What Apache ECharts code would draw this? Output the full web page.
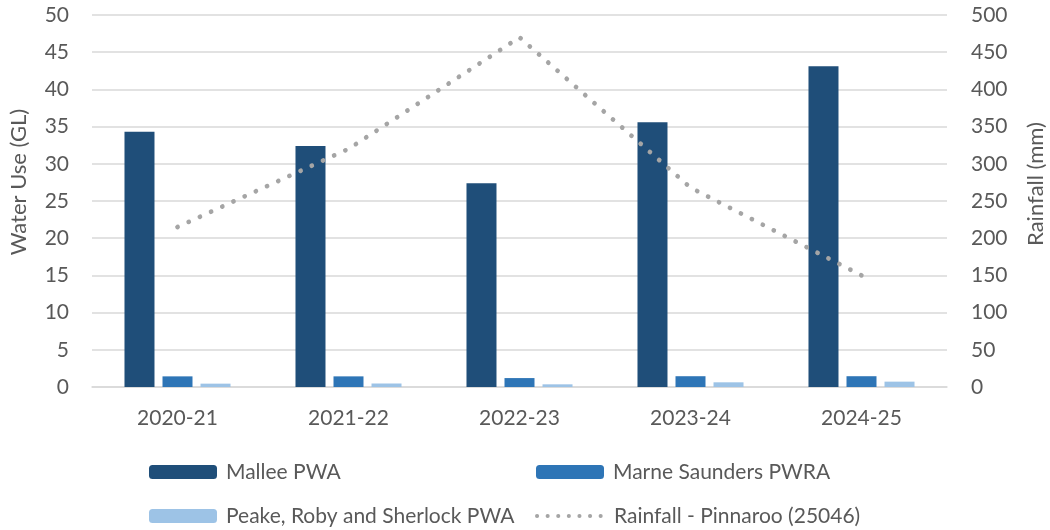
<!DOCTYPE html>
<html>
<head>
<meta charset="utf-8">
<script src="https://cdn.jsdelivr.net/npm/echarts@6/dist/echarts.min.js"></script>
<style>
  html, body { margin: 0; padding: 0; background: #ffffff; }
  #chart { width: 1050px; height: 530px; }
</style>
</head>
<body>
<div id="chart"></div>
<script>
// Annual groundwater use by prescribed area, with Pinnaroo rainfall
const years = ['2020-21', '2021-22', '2022-23', '2023-24', '2024-25'];
const malleeUse = [34.3, 32.4, 27.4, 35.6, 43.1];
const marneUse = [1.43, 1.43, 1.2, 1.45, 1.45];
const peakeUse = [0.45, 0.47, 0.36, 0.63, 0.72];
const rainfall = [215, 320, 470, 268, 150];

const FONT = 'Lato, "Open Sans", sans-serif';
const TEXT = '#595959';
const GRID = '#D9D9D9';

const chart = echarts.init(document.getElementById('chart'), null, { renderer: 'canvas' });

// one legend block per series so the two columns line up
function legendFor(name, left, top) {
  return {
    data: [name],
    left: left,
    top: top,
    itemWidth: 68,
    itemHeight: 14,
    itemGap: 0,
    padding: 0,
    selectedMode: false,
    textStyle: { color: TEXT, fontSize: 21, fontFamily: FONT, lineHeight: 24, padding: [0, 0, 0, 4] }
  };
}

const option = {
  backgroundColor: '#ffffff',
  animation: false,
  grid: { left: 92, right: 103, top: 15, bottom: 143, containLabel: false },
  legend: [
    legendFor('Mallee PWA', 149, 460),
    legendFor('Marne Saunders PWRA', 536, 460),
    legendFor('Peake, Roby and Sherlock PWA', 149, 504),
    Object.assign(legendFor('Rainfall - Pinnaroo (25046)', 535, 504), {
      itemStyle: { opacity: 0 },
      lineStyle: { type: [0.1, 10.5], width: 4, cap: 'round', color: '#A5A5A5' }
    })
  ],
  xAxis: {
    type: 'category',
    data: years,
    axisTick: { show: false },
    axisLine: { lineStyle: { color: GRID, width: 1.5 } },
    axisLabel: { color: TEXT, fontSize: 21, fontFamily: FONT, margin: 21 }
  },
  yAxis: [
    {
      type: 'value', min: 0, max: 50, interval: 5,
      axisLabel: { color: TEXT, fontSize: 21, fontFamily: FONT, margin: 23 },
      splitLine: { lineStyle: { color: GRID, width: 1.5 } },
      axisLine: { show: false }, axisTick: { show: false }
    },
    {
      type: 'value', min: 0, max: 500, interval: 50,
      axisLabel: { color: TEXT, fontSize: 21, fontFamily: FONT, margin: 24 },
      splitLine: { show: false },
      axisLine: { show: false }, axisTick: { show: false }
    }
  ],
  graphic: [
    {
      type: 'text', x: 19, y: 182, rotation: Math.PI / 2,
      style: { text: 'Water Use (GL)', fill: TEXT, fontSize: 22, fontFamily: FONT, align: 'center', verticalAlign: 'middle' }
    },
    {
      type: 'text', x: 1036, y: 184, rotation: Math.PI / 2,
      style: { text: 'Rainfall (mm)', fill: TEXT, fontSize: 22, fontFamily: FONT, align: 'center', verticalAlign: 'middle' }
    }
  ],
  series: [
    {
      name: 'Mallee PWA', type: 'bar', data: malleeUse,
      barWidth: 30, barGap: '26.7%',
      itemStyle: { color: '#1F4E79' }
    },
    {
      name: 'Marne Saunders PWRA', type: 'bar', data: marneUse,
      barWidth: 30, barGap: '26.7%',
      itemStyle: { color: '#2E75B6' }
    },
    {
      name: 'Peake, Roby and Sherlock PWA', type: 'bar', data: peakeUse,
      barWidth: 30, barGap: '26.7%',
      itemStyle: { color: '#9DC3E6' }
    },
    {
      name: 'Rainfall - Pinnaroo (25046)', type: 'line', yAxisIndex: 1, data: rainfall,
      symbol: 'none',
      lineStyle: { color: '#A5A5A5', width: 4.7, type: [0.1, 12.2], cap: 'round' },
      itemStyle: { color: '#A5A5A5' },
      z: 5
    }
  ]
};

chart.setOption(option);
</script>
</body>
</html>
